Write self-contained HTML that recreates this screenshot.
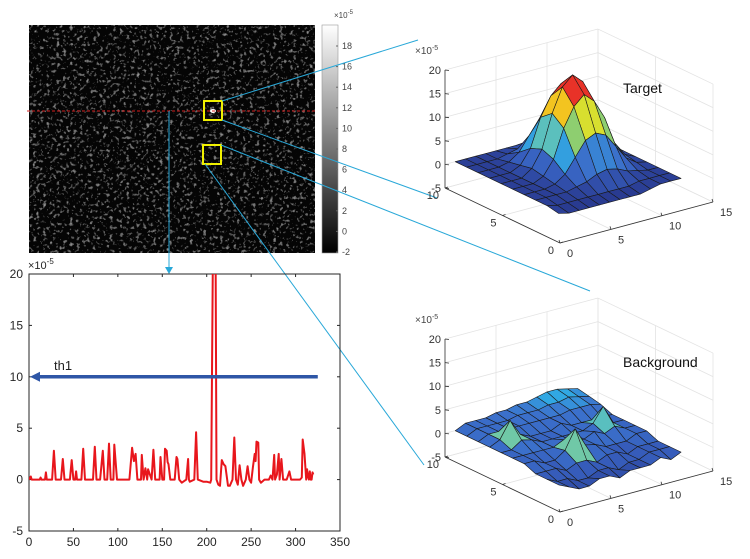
<!DOCTYPE html>
<html><head><meta charset="utf-8">
<style>
html,body{margin:0;padding:0;background:#fff;}
svg{display:block;font-family:"Liberation Sans",Arial,sans-serif;}
</style></head>
<body>
<svg id="fig" width="750" height="559" viewBox="0 0 750 559" xmlns="http://www.w3.org/2000/svg">
<defs>
<filter id="noise" x="0" y="0" width="100%" height="100%">
<feTurbulence type="fractalNoise" baseFrequency="0.3" numOctaves="2" seed="7" result="t"/>
<feColorMatrix type="matrix" values="0.33 0.33 0.33 0 0  0.33 0.33 0.33 0 0  0.33 0.33 0.33 0 0  0 0 0 0 1"/>
<feComponentTransfer><feFuncR type="linear" slope="2.6" intercept="-1.4"/><feFuncG type="linear" slope="2.6" intercept="-1.4"/><feFuncB type="linear" slope="2.6" intercept="-1.4"/></feComponentTransfer>
</filter>
<linearGradient id="cbar" x1="0" y1="0" x2="0" y2="1"><stop offset="0" stop-color="#fff"/><stop offset="1" stop-color="#000"/></linearGradient>
<clipPath id="lineclip"><rect x="29" y="274" width="311" height="257"/></clipPath>
</defs>

<g>
<rect x="29" y="25" width="286" height="228" fill="#141414"/>
<rect x="29" y="25" width="286" height="228" filter="url(#noise)" opacity="0.75"/>
<ellipse cx="213" cy="111" rx="3" ry="2" fill="#fff"/>
</g>
<line x1="27" y1="111" x2="315" y2="111" stroke="#d42020" stroke-width="1" stroke-dasharray="3,2"/>
<rect x="204" y="101" width="18" height="19" fill="none" stroke="#f0f000" stroke-width="2"/>
<rect x="203" y="145" width="18" height="19" fill="none" stroke="#f0f000" stroke-width="2"/>
<g>
<rect x="322" y="25" width="16" height="228" fill="url(#cbar)" stroke="#999" stroke-width="0.6"/>
<text x="334" y="18" font-size="8" fill="#444">×10<tspan dy="-4" font-size="6">-5</tspan></text>
<g id="cbticks" font-size="9" fill="#444"></g>
</g>

<g stroke="#29a8d8" stroke-width="1" fill="none">
<line x1="222" y1="101" x2="418" y2="40"/>
<line x1="222" y1="120" x2="437" y2="198"/>
<line x1="221" y1="145" x2="590" y2="291"/>
<line x1="205" y1="164" x2="424" y2="465"/>
<line x1="169" y1="111" x2="169" y2="268"/>
</g>
<polygon points="165,267 173,267 169,274" fill="#29a8d8"/>

<g id="linechart"></g>
<g id="target3d"></g>
<g id="bg3d"></g>
</svg>
<script>
const NS="http://www.w3.org/2000/svg";
const profX=[0,2,3,5,12,13,14,18,19,20,26,28,30,36,38,40,46,48,50,52,53,54,59,61,63,72,74,76,80,83,85,88,90,92,95,96,99,113,116,118,120,122,126,127,129,131,133,134,138,140,142,147,148,150,152,153,155,156,157,159,164,166,167,169,172,177,179,180,181,186,188,190,196,200,204,205,207,208,210,211,213,215,217,219,221,224,226,229,231,233,235,237,239,241,244,246,248,250,252,254,255,256,258,259,261,265,270,272,274,276,277,279,281,282,284,286,290,293,295,297,305,307,308,310,312,313,314,315,316,317,318,319,320];
const profY=[0,0.3,0,0,0,0.2,0,0,0.7,0,0,2.8,0,0,2.0,0,0,1.9,0,0,0.8,0,0,3.0,0,0,3.2,0,0,2.8,0,0,3.5,0,0,3.4,0,0,3.1,1.8,2.5,0,0,2.4,0,1.1,0,1.0,0,2.9,0,0,2.2,0,0,3.0,2.8,1.7,1.5,0,0,2.2,2.0,0,-0.3,0,2.0,0,-0.2,0,4.6,0,-0.2,-0.2,-0.3,0,22,22,22,0,-0.5,-0.6,1.9,1.5,1.3,-0.6,-0.6,0,4.1,0,-0.5,1.4,0,-0.6,0,1.3,0,-0.3,1.2,2.5,1.8,3.7,3.6,0,-0.3,0,0,0.4,0,2.4,0,0.5,2.5,0,2.0,0,0,0.8,0,0,0,0.2,3.9,2.5,0,1.0,0.3,0,0.8,0,0,0.7,0.5];
const profXTicks=[0,50,100,150,200,250,300,350];
const profYTicks=[-5,0,5,10,15,20];
const threshold=[10];
const cbTicks=[-2,0,2,4,6,8,10,12,14,16,18];

function el(tag,attrs,parent){const e=document.createElementNS(NS,tag);for(const k in attrs)e.setAttribute(k,attrs[k]);parent.appendChild(e);return e;}

const cb=document.getElementById('cbticks');
const cbY=v=>252-(v+2)*10.3;
cbTicks.forEach(v=>{
  el('line',{x1:336,x2:338,y1:cbY(v),y2:cbY(v),stroke:'#666'},cb);
  const t=el('text',{x:342,y:cbY(v)+3},cb);t.textContent=v;
  
  
});

(function(){
  const g=document.getElementById('linechart');
  const L=29,R=340,T=274,B=531;
  const sx=v=>L+v*(R-L)/350, sy=v=>B-(v+5)*(B-T)/25;
  const ax=el('rect',{x:L,y:T,width:R-L,height:B-T,fill:'none',stroke:'#262626','stroke-width':1},g);
  
  
  profXTicks.forEach(v=>{
    el('line',{x1:sx(v),x2:sx(v),y1:B,y2:B-3,stroke:'#262626'},g);
    el('line',{x1:sx(v),x2:sx(v),y1:T,y2:T+3,stroke:'#262626'},g);
    const t=el('text',{x:sx(v),y:B+15,'font-size':12,'text-anchor':'middle',fill:'#262626'},g);t.textContent=v;
    
    
  });
  profYTicks.forEach(v=>{
    el('line',{x1:L,x2:L+3,y1:sy(v),y2:sy(v),stroke:'#262626'},g);
    el('line',{x1:R,x2:R-3,y1:sy(v),y2:sy(v),stroke:'#262626'},g);
    const t=el('text',{x:L-6,y:sy(v)+4,'font-size':12,'text-anchor':'end',fill:'#262626'},g);t.textContent=v;
    
    
  });
  const ex=el('text',{x:L-1,y:T-5,'font-size':11,fill:'#262626'},g);
  ex.innerHTML='×10<tspan dy="-5" font-size="8">-5</tspan>';
  
  
  const pts=profX.map((x,i)=>sx(x).toFixed(1)+','+sy(profY[i]).toFixed(1)).join(' ');
  const pl=el('polyline',{points:pts,fill:'none',stroke:'#e8161c','stroke-width':2,'stroke-linejoin':'round','clip-path':'url(#lineclip)'},g);
  
  
  const ty=sy(threshold[0]);
  const th=el('line',{x1:sx(325),x2:sx(0)+8,y1:ty,y2:ty,stroke:'#2e56a6','stroke-width':3.5},g);
  
  
  el('polygon',{points:`${sx(0)+1},${ty} ${sx(0)+11},${ty-5} ${sx(0)+11},${ty+5}`,fill:'#2e56a6'},g);
  const tl=el('text',{x:54,y:ty-7,'font-size':13,fill:'#222'},g);tl.textContent='th1';
  
  
})();

const targetZ=[
[-0.5,-1,-1,-1,-1,-1,-1,-1,-1,-0.5,0,0,0],
[0,-0.5,-0.5,-0.5,-0.5,-0.5,-0.5,-0.5,-0.5,0,0,0,0],
[0,0,0,0,0.5,1,2,2.5,2,1,0.5,0,0],
[0,0,0,0.5,2,5,8,9,8,5,2,0.5,0],
[0,0,0,1,4,10,14,16,14,10,4,1,0],
[0,0,0,1.5,5,12,17,19,17,12,5,1.5,0],
[0,0,0,1,4,10,14,16,14,10,4,1,0],
[0,0,0,0.5,2,5,8,9,8,5,2,0.5,0],
[0,0,0,0,0.5,1,2,2.5,2,1,0.5,0,0],
[0,0,0,0,0,0,0,0,0,0,0,0,0]];
const bgZ=[
[-1,-2,-3,-3,-2,-2,-3,-2,-2,-2,-1,-2,-1],
[-1,-2,-2,-3,-3,-2,-2,-3,-2,-2,-1,-1,-1],
[-1,-1,-1,-2,-1,-1,-2,-1,-1,-2,-1,-1,-1],
[0,0,-1,-1,0.5,4.5,0.5,0,-1,-1,-1,0,0],
[0,0,0,0,0,1,0,0,1,0,1,0,0],
[0,0,1.5,1,0,0,0,0,0,1,4,0,0],
[0,1,4.5,1,0,0,0,1,0,0,0,0,0],
[0,1,1,1,1,1,1,1,1,1.5,1.5,1.5,1],
[0,1,1,1,1,1.5,1.5,1.5,2,2,2.5,2,1.5],
[0,1,1,1,1.5,1.5,2,2,2.5,3,3,2.5,2]];
const xTicks3=[0,5,10,15], yTicks3=[0,5,10], zTicks3=[-5,0,5,10,15,20];

function cmap(t){
  const stops=[[0,[40,55,140]],[0.25,[55,95,190]],[0.45,[60,115,205]],[0.55,[48,175,230]],[0.65,[110,200,170]],[0.75,[160,210,80]],[0.84,[245,230,30]],[0.93,[232,50,40]],[1,[232,50,40]]];
  t=Math.max(0,Math.min(1,t));
  for(let i=1;i<stops.length;i++){if(t<=stops[i][0]){const a=stops[i-1],b=stops[i],f=(t-a[0])/(b[0]-a[0]||1);return 'rgb('+a[1].map((c,j)=>Math.round(c+(b[1][j]-c)*f)).join(',')+')';}}
  return 'rgb(232,50,40)';
}

function draw3d(gid,Z,off,label,lo,hi,labelY){
  const g=document.getElementById(gid);
  const P=(x,y,z)=>[560+10.2*x-11.5*y, off+243-2.73*x-5.5*y-4.72*(z+5)];
  const line=(a,b,attrs)=>el('line',Object.assign({x1:a[0],y1:a[1],x2:b[0],y2:b[1]},attrs),g);
  const gs={stroke:'#e3e3e3','stroke-width':0.8};
  zTicks3.forEach(z=>{line(P(0,10,z),P(15,10,z),gs);line(P(15,0,z),P(15,10,z),gs);});
  xTicks3.forEach(x=>{line(P(x,10,-5),P(x,10,20),gs);line(P(x,0,-5),P(x,10,-5),gs);});
  yTicks3.forEach(y=>{line(P(15,y,-5),P(15,y,20),gs);line(P(0,y,-5),P(15,y,-5),gs);});
  const as={stroke:'#333','stroke-width':0.8};
  line(P(0,10,-5),P(0,10,20),as);line(P(0,10,-5),P(0,0,-5),as);line(P(0,0,-5),P(15,0,-5),as);
  zTicks3.forEach(z=>{const p=P(0,10,z);line(p,[p[0]+4,p[1]+0.5],as);
    const t=el('text',{x:p[0]-4,y:p[1]+4,'font-size':11,'text-anchor':'end',fill:'#333'},g);t.textContent=z;
    
    });
  xTicks3.forEach(x=>{const p=P(x,0,-5);line(p,[p[0]-1,p[1]-3],as);
    const t=el('text',{x:p[0]+7,y:p[1]+14,'font-size':11,fill:'#333'},g);t.textContent=x;
    
    });
  yTicks3.forEach(y=>{const p=P(0,y,-5);line(p,[p[0]+3,p[1]-1],as);
    const t=el('text',{x:p[0]-6,y:p[1]+11,'font-size':11,'text-anchor':'end',fill:'#333'},g);t.textContent=y;
    
    });
  const top=P(0,10,20);
  const ex=el('text',{x:top[0]-30,y:top[1]-16,'font-size':10,fill:'#444'},g);
  ex.innerHTML='×10<tspan dy="-4" font-size="7">-5</tspan>';
  
  
  const faces=[];
  for(let j=0;j<Z.length-1;j++)for(let i=0;i<Z[0].length-1;i++){
    const x=i+1,y=j+1;
    const c=[[x,y,Z[j][i]],[x+1,y,Z[j][i+1]],[x+1,y+1,Z[j+1][i+1]],[x,y+1,Z[j+1][i]]];
    const m=Math.max(c[0][2],c[1][2],c[2][2],c[3][2]);
    faces.push({c,m,d:2.73*(x+0.5)+5.5*(y+0.5)});
  }
  faces.sort((a,b)=>b.d-a.d);
  faces.forEach(f=>{
    const pts=f.c.map(q=>P(q[0],q[1],q[2]).map(v=>v.toFixed(1)).join(',')).join(' ');
    const p=el('polygon',{points:pts,fill:cmap((f.m-lo)/(hi-lo)),stroke:'#1a1a1a','stroke-width':0.6,'stroke-linejoin':'round'},g);
    
    
  });
  const t=el('text',{x:P(15,10,0)[0]+25,y:labelY,'font-size':14,fill:'#111'},g);t.textContent=label;
  
  
}
draw3d('target3d',targetZ,0,'Target',-1,20,93);
draw3d('bg3d',bgZ,269,'Background',-4,9,367);
</script>
</body></html>
